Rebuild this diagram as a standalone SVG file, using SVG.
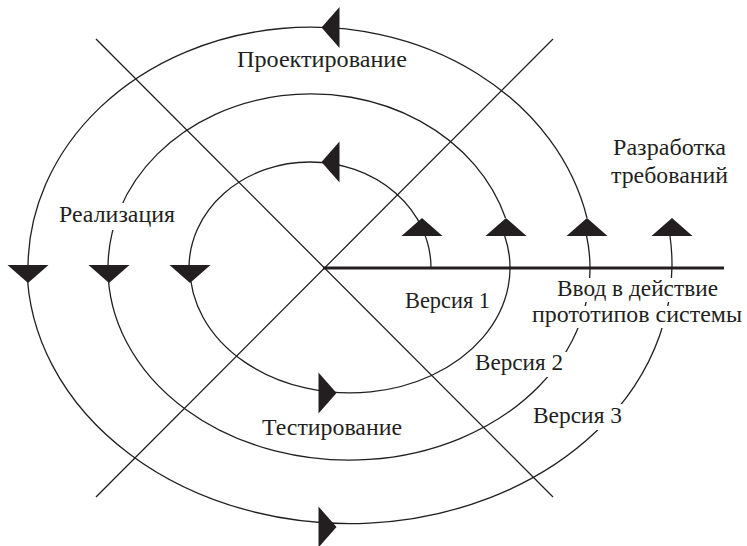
<svg xmlns="http://www.w3.org/2000/svg" xmlns:xlink="http://www.w3.org/1999/xlink" width="747" height="546" viewBox="0 0 747 546">
<style>
.ln{fill:none;stroke:#231f20;stroke-width:1.3}
.axis{fill:none;stroke:#231f20;stroke-width:3}
.ar{fill:#231f20}
.bg{fill:#fff}
.t{font-family:"Liberation Serif","Times New Roman",serif;font-size:22.5px;fill:#231f20;text-anchor:middle}
</style>
<defs>
<path id="ah" d="M0,-9 L20.5,9 L-20.5,9 Z"/>
</defs>
<rect width="747" height="546" fill="#fff"/>
<g id="axes">
<line class="ln" x1="96" y1="39" x2="553" y2="497"/>
<line class="ln" x1="96" y1="497" x2="553" y2="39"/>
<line class="axis" x1="323" y1="268" x2="724" y2="268"/>
</g>
<g id="spiral">
<path class="ln" d="M431,268 A121,106 0 0 0 189,268"/>
<path class="ln" d="M190,268 A160,125 0 1 0 504.7,236"/>
<path class="ln" d="M505.5,218 A203,174 0 0 0 108,268"/>
<path class="ln" d="M108,268 A241,192 0 1 0 586.6,236"/>
<path class="ln" d="M587,218 A282.6,241 0 0 0 28,268"/>
<path class="ln" d="M27,268 A322.5,259 0 1 0 670,236"/>
</g>
<g id="arrows" class="ar">
<use xlink:href="#ah" transform="translate(422,227)"/>
<use xlink:href="#ah" transform="translate(506,227)"/>
<use xlink:href="#ah" transform="translate(587,227)"/>
<use xlink:href="#ah" transform="translate(672,227)"/>
<use xlink:href="#ah" transform="translate(28,274) rotate(180)"/>
<use xlink:href="#ah" transform="translate(109,274) rotate(180)"/>
<use xlink:href="#ah" transform="translate(190,274) rotate(180)"/>
<use xlink:href="#ah" transform="translate(330.5,27.5) rotate(-90)"/>
<use xlink:href="#ah" transform="translate(330.5,162) rotate(-90)"/>
<use xlink:href="#ah" transform="translate(327.5,393) rotate(90)"/>
<use xlink:href="#ah" transform="translate(327.5,527) rotate(90)"/>
</g>
<g id="labels">
<rect class="bg" x="59" y="203" width="117" height="27"/>
<rect class="bg" x="555" y="278" width="166" height="24"/>
<rect class="bg" x="530" y="306" width="214" height="22"/>
<rect class="bg" x="473" y="352" width="94" height="25"/>
<rect class="bg" x="531" y="404" width="93" height="26"/>
<text class="t" x="322" y="67" textLength="170" lengthAdjust="spacingAndGlyphs">Проектирование</text>
<text class="t" x="117" y="222" textLength="116" lengthAdjust="spacingAndGlyphs">Реализация</text>
<text class="t" x="669.5" y="155" textLength="113" lengthAdjust="spacingAndGlyphs">Разработка</text>
<text class="t" x="669.5" y="183" textLength="117" lengthAdjust="spacingAndGlyphs">требований</text>
<text class="t" x="447.5" y="308" textLength="85" lengthAdjust="spacingAndGlyphs">Версия 1</text>
<text class="t" x="637.5" y="296" textLength="161" lengthAdjust="spacingAndGlyphs">Ввод в действие</text>
<text class="t" x="637" y="322" textLength="210" lengthAdjust="spacingAndGlyphs">прототипов системы</text>
<text class="t" x="519" y="370" textLength="88" lengthAdjust="spacingAndGlyphs">Версия 2</text>
<text class="t" x="577.5" y="423" textLength="89" lengthAdjust="spacingAndGlyphs">Версия 3</text>
<text class="t" x="332" y="435" textLength="140" lengthAdjust="spacingAndGlyphs">Тестирование</text>
</g>
</svg>
